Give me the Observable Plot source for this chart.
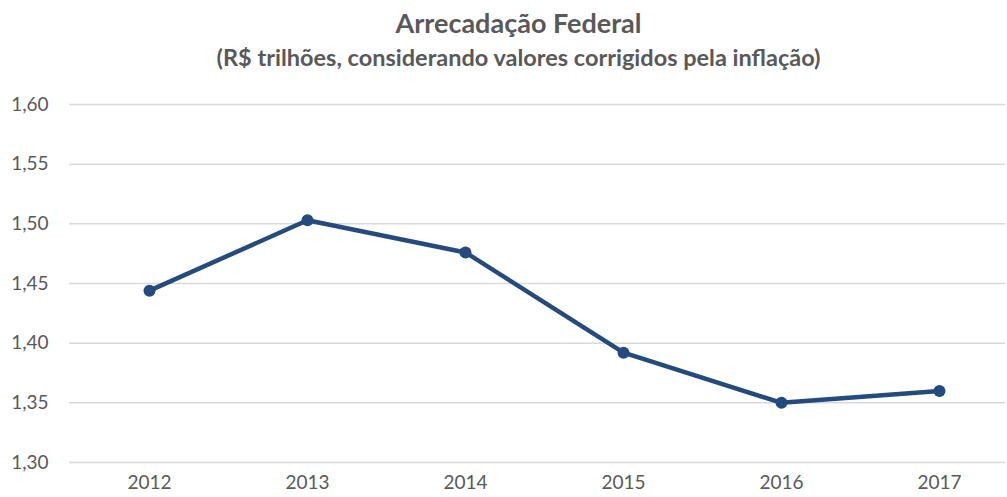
<!DOCTYPE html>
<html>
<head>
<meta charset="utf-8">
<script src="https://cdn.jsdelivr.net/npm/d3@7"></script>
<script src="https://cdn.jsdelivr.net/npm/@observablehq/plot@0.6"></script>
<style>
  html, body { margin: 0; padding: 0; background: #fff; }
  #wrap { width: 1007px; font-family: Lato, "Open Sans", sans-serif; color: #595959; }
  #title { height: 80px; text-align: center; position: relative; }
  #t1 { position: absolute; left: 0; right: 0; top: 7px; margin-left: 30px; font-size: 27px; font-weight: bold; line-height: 1.2; }
  #t2 { position: absolute; left: 0; right: 0; top: 43px; margin-left: 30px; font-size: 23.5px; font-weight: bold; line-height: 1.2; }
</style>
</head>
<body>
<div id="wrap">
  <div id="title">
    <div id="t1">Arrecadação Federal</div>
    <div id="t2">(R$ trilhões, considerando valores corrigidos pela inflação)</div>
  </div>
  <div id="chart"></div>
</div>
<script>
const years = ["2012", "2013", "2014", "2015", "2016", "2017"];
const values = [1.444, 1.503, 1.476, 1.392, 1.350, 1.360];
const yTicks = [1.30, 1.35, 1.40, 1.45, 1.50, 1.55, 1.60];

const data = years.map((y, i) => ({year: y, value: values[i]}));
const lineColor = "#244b7e";

const chart = Plot.plot({
  width: 1007,
  height: 417,
  marginLeft: 69,
  marginRight: 2,
  marginTop: 24,
  marginBottom: 35,
  style: {fontFamily: "Lato, 'Open Sans', sans-serif", fontSize: "19px", color: "#595959", background: "#fff"},
  x: {type: "point", domain: years, range: [148, 940], padding: 0, label: null},
  y: {domain: [1.30, 1.60], label: null},
  marks: [
    Plot.ruleY(yTicks, {stroke: "#d9d9d9", strokeWidth: 1.5}),
    Plot.axisY({ticks: yTicks, tickSize: 0, tickPadding: 21, tickFormat: d => d.toFixed(2).replace(".", ","), label: null}),
    Plot.axisX({tickSize: 0, tickPadding: 13, label: null}),
    Plot.line(data, {x: "year", y: "value", stroke: lineColor, strokeWidth: 4.5, strokeLinejoin: "round"}),
    Plot.dot(data, {x: "year", y: "value", fill: lineColor, r: 6})
  ]
});
document.getElementById("chart").appendChild(chart);
</script>
</body>
</html>
